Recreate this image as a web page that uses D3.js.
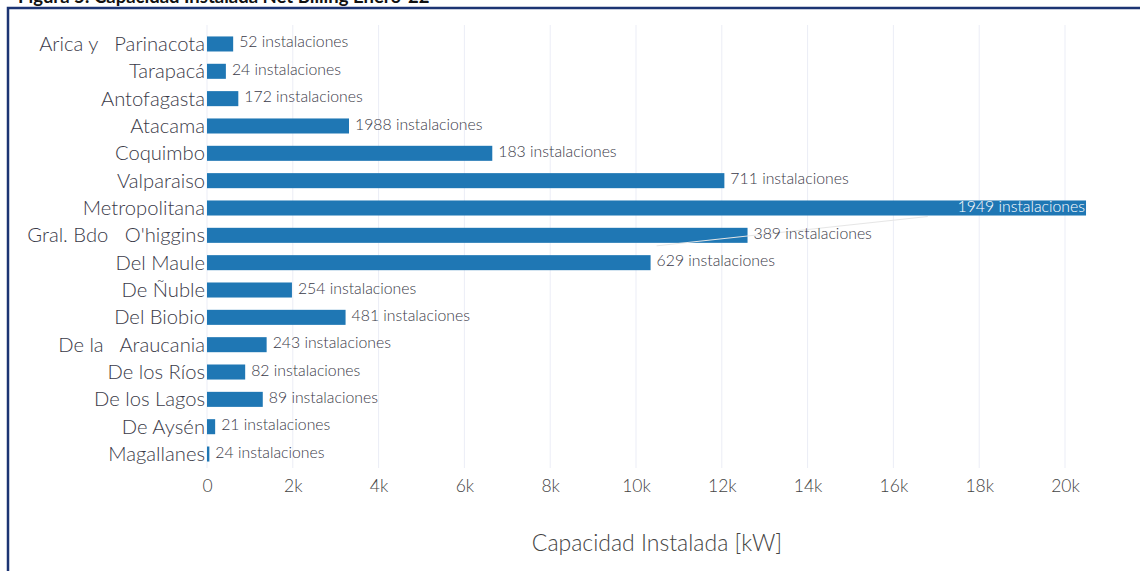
<!DOCTYPE html>
<html><head><meta charset="utf-8">
<script src="https://cdn.jsdelivr.net/npm/d3@7"></script>
<style>
html,body{margin:0;padding:0;background:#fff;}
svg{display:block;}
text{font-family:Lato,"Open Sans",sans-serif;}
</style></head>
<body>
<svg id="c" width="1140" height="571"></svg>
<script>
const regions = ["Arica y   Parinacota","Tarapacá","Antofagasta","Atacama","Coquimbo","Valparaiso","Metropolitana","Gral. Bdo   O'higgins","Del Maule","De Ñuble","Del Biobio","De la   Araucania","De los Ríos","De los Lagos","De Aysén","Magallanes"];
const capacityKW = [610, 440, 730, 3310, 6650, 12060, 20490, 12600, 10340, 1980, 3230, 1390, 890, 1300, 190, 55];
const installations = [52, 24, 172, 1988, 183, 711, 1949, 389, 629, 254, 481, 243, 82, 89, 21, 24];
const xTicks = [0, 2000, 4000, 6000, 8000, 10000, 12000, 14000, 16000, 18000, 20000];
const xTickLabels = ["0","2k","4k","6k","8k","10k","12k","14k","16k","18k","20k"];
const titleText = "Figura 5: Capacidad Instalada Net Billing Enero-22";
const xTitle = "Capacidad Instalada [kW]";

const svg = d3.select("#c");
const x = d3.scaleLinear().domain([0, 20000]).range([207, 1065]);
const y = d3.scaleBand().domain(regions).range([30.3, 467.7]).paddingInner(0.45).paddingOuter(0.225);

// title (cut off at top, as in the source)
svg.append("text").attr("x", 18).attr("y", 3).attr("font-family", "'Liberation Sans',Arial,sans-serif")
  .attr("font-weight", "bold").attr("font-size", 18.5).attr("fill", "#111").text(titleText);

// frame
svg.append("rect").attr("x", 8).attr("y", 8).attr("width", 1200).attr("height", 700)
  .attr("fill", "none").attr("stroke", "#1c3473").attr("stroke-width", 2.5);

// gridlines
svg.append("g").selectAll("line").data(xTicks).join("line")
  .attr("x1", d => x(d)).attr("x2", d => x(d)).attr("y1", 25).attr("y2", 468)
  .attr("stroke", "#ebedf6").attr("stroke-width", 1);

// x axis tick labels
const xa = svg.append("g").attr("transform", "translate(0,476)")
  .call(d3.axisBottom(x).tickValues(xTicks).tickFormat((d, i) => xTickLabels[i]).tickSize(0).tickPadding(0));
xa.select(".domain").remove();
xa.selectAll("text").attr("font-family", "Lato,sans-serif").attr("font-weight", 300).attr("font-size", 17.5).attr("fill", "#444").attr("dy", "0.9em");

// y axis labels
const ya = svg.append("g").attr("transform", "translate(206,0)")
  .call(d3.axisLeft(y).tickSize(0).tickPadding(1));
ya.select(".domain").remove();
ya.selectAll("text").attr("font-family", "Lato,sans-serif").attr("font-weight", 300).attr("font-size", 20.2).attr("fill", "#3a3a48")
  .style("white-space", "pre").attr("dy", "0.35em");

// bars
svg.append("g").selectAll("rect").data(regions).join("rect")
  .attr("x", x(0)).attr("y", d => y(d)).attr("height", y.bandwidth())
  .attr("width", (d, i) => x(capacityKW[i]) - x(0)).attr("fill", "#1f77b4");

// faint annotation arrow line
const iM = regions.indexOf("Metropolitana"), iO = regions.indexOf("Gral. Bdo   O'higgins"), iMa = regions.indexOf("Del Maule");
svg.append("line").attr("x1", x(capacityKW[iMa]) + 6).attr("y1", y(regions[iO]) + y.bandwidth() + 3)
  .attr("x2", x(16800)).attr("y2", y(regions[iM]) + y.bandwidth() + 1)
  .attr("stroke", "#e6e6e6").attr("stroke-width", 1);

// value labels
svg.append("g").selectAll("text").data(regions).join("text")
  .attr("x", (d, i) => i === iM ? x(capacityKW[i]) - 1 : x(capacityKW[i]) + 6)
  .attr("y", d => y(d) + y.bandwidth() / 2 - 2)
  .attr("dy", "0.35em")
  .attr("text-anchor", (d, i) => i === iM ? "end" : "start")
  .attr("font-family", "Lato,sans-serif").attr("font-weight", 300).attr("font-size", 15.8)
  .attr("fill", (d, i) => i === iM ? "#fff" : "#3a3a48")
  .text((d, i) => installations[i] + " instalaciones");

// x title
svg.append("text").attr("x", 657).attr("y", 551).attr("text-anchor", "middle")
  .attr("font-family", "Lato,sans-serif").attr("font-weight", 300).attr("font-size", 23).attr("fill", "#444").text(xTitle);
</script>
</body></html>
